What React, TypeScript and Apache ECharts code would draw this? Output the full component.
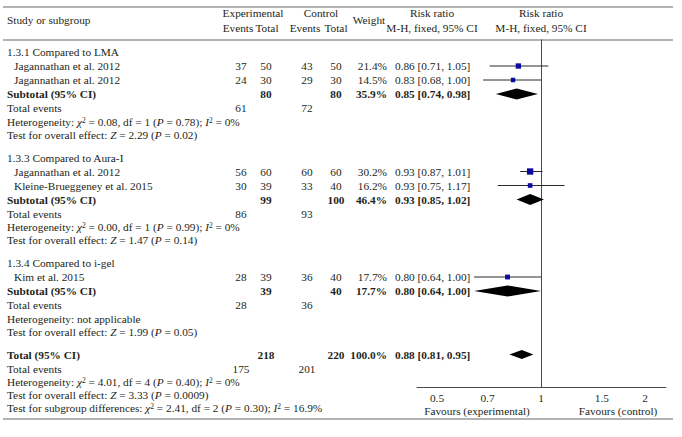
import React, { useEffect, useRef } from "react";
import * as echarts from "echarts";

// ---------- data ----------
const groupNames = ["1.3.1 Compared to LMA", "1.3.3 Compared to Aura-I", "1.3.4 Compared to i-gel"];
const studyNames = [
  "Jagannathan et al. 2012",
  "Jagannathan et al. 2012",
  "Jagannathan et al. 2012",
  "Kleine-Brueggeney et al. 2015",
  "Kim et al. 2015",
];
const studyGroup = [0, 0, 1, 1, 2];
const expEvents = [37, 24, 56, 30, 28];
const expTotal = [50, 30, 60, 39, 39];
const ctrlEvents = [43, 29, 60, 33, 36];
const ctrlTotal = [50, 30, 60, 40, 40];
const studyWeight = ["21.4%", "14.5%", "30.2%", "16.2%", "17.7%"];
const studyWeightNum = [21.4, 14.5, 30.2, 16.2, 17.7];
const studyRR = [0.86, 0.83, 0.93, 0.93, 0.8];
const studyLo = [0.71, 0.68, 0.87, 0.75, 0.64];
const studyHi = [1.05, 1.0, 1.01, 1.17, 1.0];

const subExpTotal = [80, 99, 39];
const subCtrlTotal = [80, 100, 40];
const subWeight = ["35.9%", "46.4%", "17.7%"];
const subRR = [0.85, 0.93, 0.8];
const subLo = [0.74, 0.85, 0.64];
const subHi = [0.98, 1.02, 1.0];
const subExpEvents = [61, 86, 28];
const subCtrlEvents = [72, 93, 36];
const subHetChi = ["0.08", "0.00", ""];
const subHetDf = ["1", "1", ""];
const subHetP = ["0.78", "0.99", ""];
const subHetI2 = ["0", "0", ""];
const subZ = ["2.29", "1.47", "1.99"];
const subZP = ["0.02", "0.14", "0.05"];

const totalExp = 218;
const totalCtrl = 220;
const totalWeight = "100.0%";
const totalRR = [0.88, 0.81, 0.95];
const totalEvents = [175, 201];
const totalHet = ["4.01", "4", "0.40", "0"];
const totalZ = ["3.33", "0.0009"];
const subgroupDiff = ["2.41", "2", "0.30", "16.9"];

const tickValues = [0.5, 0.7, 1, 1.5, 2];

// ---------- style / layout ----------
const FONT = "'Liberation Serif', 'Times New Roman', serif";
const FS = 11.3;
const TXT = "#231f20";
const SQUARE = "#0a0aa0";
const COL = { name: 7, indent: 14, expEv: 241, expTot: 266, ctlEv: 307, ctlTot: 336, weight: 387, rr: 395 };
const ROW = 14, NOTE = 13, GAP = 9;
const PLOT_TOP = 40, PLOT_AXIS = 387, PLOT_LEFT = 417, PLOT_RIGHT = 666, ZERO_X = 541;
const PX_PER_LN = 150;

const fmt2 = (v: number) => v.toFixed(2);
const ciText = (r: number, l: number, h: number) => `${fmt2(r)} [${fmt2(l)}, ${fmt2(h)}]`;

function buildLayout() {
  let y = 52;
  const groups = groupNames.map((_, gi) => {
    const sec = y; y += ROW;
    const studies: { idx: number; y: number }[] = [];
    studyGroup.forEach((g, si) => {
      if (g === gi) { studies.push({ idx: si, y }); y += ROW; }
    });
    const sub = y; y += ROW;
    const ev = y; y += NOTE + 0.5;
    const het = y; y += NOTE;
    const test = y; y += ROW + GAP;
    return { sec, studies, sub, ev, het, test };
  });
  const tot = y; y += ROW;
  const ev = y; y += NOTE + 0.5;
  const het = y; y += NOTE;
  const test = y; y += NOTE;
  const sg = y;
  return { groups, total: { tot, ev, het, test, sg } };
}

const rich = {
  i: { fontStyle: "italic", fontFamily: FONT, fontSize: FS, fill: TXT },
  s: { fontFamily: FONT, fontSize: 7.5, fill: TXT, verticalAlign: "top" },
  b: { fontWeight: "bold", fontFamily: FONT, fontSize: FS, fill: TXT },
};

function txt(x: number, y: number, text: string, opt: { align?: string; bold?: boolean } = {}) {
  return {
    type: "text",
    x,
    y,
    silent: true,
    style: {
      text,
      fill: TXT,
      fontFamily: FONT,
      fontSize: FS,
      fontWeight: opt.bold ? "bold" : "normal",
      align: opt.align || "left",
      verticalAlign: "middle",
      rich,
    },
  };
}

function hline(y: number, x1: number, x2: number) {
  return {
    type: "line",
    silent: true,
    shape: { x1, y1: y, x2, y2: y },
    style: { stroke: "#9a9a9a", lineWidth: 1.3 },
  };
}

function buildOption() {
  const L = buildLayout();
  const g: any[] = [];
  // rules
  g.push(hline(7, 3, 673), hline(40, 3, 673), hline(419, 3, 673));
  // header
  g.push(txt(COL.name, 20, "Study or subgroup"));
  g.push(txt(253, 13, "Experimental", { align: "center" }));
  g.push(txt(238, 28, "Events", { align: "center" }));
  g.push(txt(267, 28, "Total", { align: "center" }));
  g.push(txt(321, 13, "Control", { align: "center" }));
  g.push(txt(305, 28, "Events", { align: "center" }));
  g.push(txt(336, 28, "Total", { align: "center" }));
  g.push(txt(369, 20, "Weight", { align: "center" }));
  g.push(txt(432, 13, "Risk ratio", { align: "center" }));
  g.push(txt(432, 28, "M-H, fixed, 95% CI", { align: "center" }));
  g.push(txt(ZERO_X, 13, "Risk ratio", { align: "center" }));
  g.push(txt(ZERO_X, 28, "M-H, fixed, 95% CI", { align: "center" }));

  const plotData: any[] = [];

  L.groups.forEach((G, gi) => {
    g.push(txt(COL.name, G.sec, groupNames[gi]));
    G.studies.forEach(({ idx, y }) => {
      g.push(txt(COL.indent, y, studyNames[idx]));
      g.push(txt(COL.expEv, y, String(expEvents[idx]), { align: "center" }));
      g.push(txt(COL.expTot, y, String(expTotal[idx]), { align: "center" }));
      g.push(txt(COL.ctlEv, y, String(ctrlEvents[idx]), { align: "center" }));
      g.push(txt(COL.ctlTot, y, String(ctrlTotal[idx]), { align: "center" }));
      g.push(txt(COL.weight, y, studyWeight[idx], { align: "right" }));
      g.push(txt(COL.rr, y, ciText(studyRR[idx], studyLo[idx], studyHi[idx])));
      plotData.push([Math.log(studyRR[idx]), Math.log(studyLo[idx]), Math.log(studyHi[idx]), y, studyWeightNum[idx], 0]);
    });
    g.push(txt(COL.name, G.sub, "Subtotal (95% CI)", { bold: true }));
    g.push(txt(COL.expTot, G.sub, String(subExpTotal[gi]), { align: "center", bold: true }));
    g.push(txt(COL.ctlTot, G.sub, String(subCtrlTotal[gi]), { align: "center", bold: true }));
    g.push(txt(COL.weight, G.sub, subWeight[gi], { align: "right", bold: true }));
    g.push(txt(COL.rr, G.sub, ciText(subRR[gi], subLo[gi], subHi[gi]), { bold: true }));
    plotData.push([Math.log(subRR[gi]), Math.log(subLo[gi]), Math.log(subHi[gi]), G.sub, 5.5, 1]);
    g.push(txt(COL.name, G.ev, "Total events"));
    g.push(txt(COL.expEv, G.ev, String(subExpEvents[gi]), { align: "center" }));
    g.push(txt(COL.ctlEv, G.ev, String(subCtrlEvents[gi]), { align: "center" }));
    g.push(
      txt(
        COL.name,
        G.het,
        subHetChi[gi]
          ? `Heterogeneity: {i|χ}{s|2} = ${subHetChi[gi]}, df = ${subHetDf[gi]} ({i|P} = ${subHetP[gi]}); {i|I}{s|2} = ${subHetI2[gi]}%`
          : "Heterogeneity: not applicable"
      )
    );
    g.push(txt(COL.name, G.test, `Test for overall effect: {i|Z} = ${subZ[gi]} ({i|P} = ${subZP[gi]})`));
  });

  const T = L.total;
  g.push(txt(COL.name, T.tot, "Total (95% CI)", { bold: true }));
  g.push(txt(COL.expTot, T.tot, String(totalExp), { align: "center", bold: true }));
  g.push(txt(COL.ctlTot, T.tot, String(totalCtrl), { align: "center", bold: true }));
  g.push(txt(COL.weight, T.tot, totalWeight, { align: "right", bold: true }));
  g.push(txt(COL.rr, T.tot, ciText(totalRR[0], totalRR[1], totalRR[2]), { bold: true }));
  plotData.push([Math.log(totalRR[0]), Math.log(totalRR[1]), Math.log(totalRR[2]), T.tot, 4.5, 1]);
  g.push(txt(COL.name, T.ev, "Total events"));
  g.push(txt(COL.expEv, T.ev, String(totalEvents[0]), { align: "center" }));
  g.push(txt(COL.ctlEv, T.ev, String(totalEvents[1]), { align: "center" }));
  g.push(
    txt(
      COL.name,
      T.het,
      `Heterogeneity: {i|χ}{s|2} = ${totalHet[0]}, df = ${totalHet[1]} ({i|P} = ${totalHet[2]}); {i|I}{s|2} = ${totalHet[3]}%`
    )
  );
  g.push(txt(COL.name, T.test, `Test for overall effect: {i|Z} = ${totalZ[0]} ({i|P} = ${totalZ[1]})`));
  g.push(
    txt(
      COL.name,
      T.sg,
      `Test for subgroup differences: {i|χ}{s|2} = ${subgroupDiff[0]}, df = ${subgroupDiff[1]} ({i|P} = ${subgroupDiff[2]}); {i|I}{s|2} = ${subgroupDiff[3]}%`
    )
  );

  // favours labels
  g.push(txt(477, 411, "Favours (experimental)", { align: "center" }));
  g.push(txt(618, 411, "Favours (control)", { align: "center" }));

  const xMin = (PLOT_LEFT - ZERO_X) / PX_PER_LN;
  const xMax = (PLOT_RIGHT - ZERO_X) / PX_PER_LN;

  return {
    animation: false,
    backgroundColor: "#fff",
    grid: { left: PLOT_LEFT, right: 682 - PLOT_RIGHT, top: PLOT_TOP, bottom: 437 - PLOT_AXIS },
    xAxis: {
      type: "value",
      min: xMin,
      max: xMax,
      splitLine: { show: false },
      axisTick: { show: false },
      axisLine: { show: true, onZero: false, lineStyle: { color: "#4a4a4a", width: 1 } },
      axisLabel: {
        customValues: tickValues.map((v) => Math.log(v)),
        formatter: (v: number) => String(+Math.exp(v).toPrecision(2)),
        color: TXT,
        fontFamily: FONT,
        fontSize: FS,
        margin: 5,
      },
    },
    yAxis: {
      type: "value",
      inverse: true,
      min: PLOT_TOP,
      max: PLOT_AXIS,
      splitLine: { show: false },
      axisTick: { show: false },
      axisLabel: { show: false },
      axisLine: { show: true, onZero: true, lineStyle: { color: "#4a4a4a", width: 1 } },
    },
    series: [
      {
        type: "custom",
        clip: false,
        encode: { x: [0, 1, 2], y: 3 },
        data: plotData,
        renderItem: (params: any, api: any) => {
          const y = api.value(3);
          const c = api.coord([api.value(0), y]);
          const l = api.coord([api.value(1), y]);
          const h = api.coord([api.value(2), y]);
          const kind = api.value(5);
          if (kind === 0) {
            const s = Math.sqrt(api.value(4)) * 1.15;
            return {
              type: "group",
              children: [
                { type: "line", shape: { x1: l[0], y1: c[1], x2: h[0], y2: c[1] }, style: { stroke: "#2a2a2a", lineWidth: 1 } },
                { type: "rect", shape: { x: c[0] - s / 2, y: c[1] - s / 2, width: s, height: s }, style: { fill: SQUARE } },
              ],
            };
          }
          const hh = api.value(4);
          return {
            type: "polygon",
            shape: { points: [[l[0], c[1]], [c[0], c[1] - hh], [h[0], c[1]], [c[0], c[1] + hh]] },
            style: { fill: "#000" },
          };
        },
      },
    ],
    graphic: g,
  };
}

export default function App() {
  const ref = useRef<HTMLDivElement>(null);
  useEffect(() => {
    const chart = echarts.init(ref.current!, null, { renderer: "svg" });
    chart.setOption(buildOption() as any);
    return () => chart.dispose();
  }, []);
  return (
    <div
      ref={ref}
      style={{ position: "fixed", left: 0, top: 0, width: 682, height: 437, background: "#fff" }}
    />
  );
}
